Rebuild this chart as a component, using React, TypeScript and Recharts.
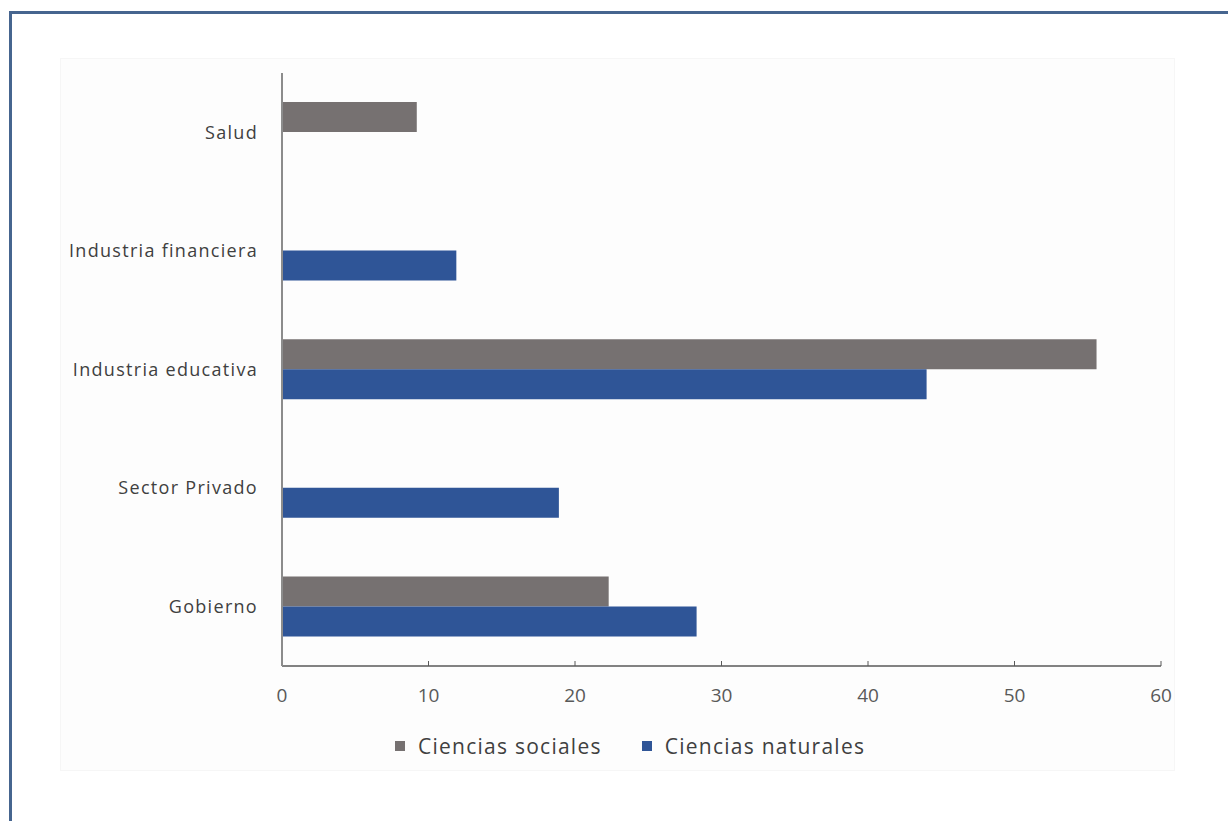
import {BarChart, Bar, XAxis, YAxis, Legend} from 'recharts';

const categories = ['Salud', 'Industria financiera', 'Industria educativa', 'Sector Privado', 'Gobierno'];
const sociales = [9.2, null, 55.6, null, 22.3];
const naturales = [null, 11.9, 44.0, 18.9, 28.3];
const xTicks = [0, 10, 20, 30, 40, 50, 60];

const data = categories.map((name, i) => ({name, sociales: sociales[i], naturales: naturales[i]}));

const GRAY = '#767171';
const BLUE = '#2F5597';
const FONT = '"Open Sans", sans-serif';

const renderLegend = () => {
    const items = [
        {label: 'Ciencias sociales', color: GRAY},
        {label: 'Ciencias naturales', color: BLUE},
    ];
    return (
        <div style={{display: 'flex', alignItems: 'center', height: 30, paddingLeft: 395}}>
            {items.map((it) => (
                <div key={it.label} style={{display: 'flex', alignItems: 'center', marginRight: 40}}>
                    <span style={{display: 'inline-block', width: 10, height: 10, background: it.color, marginRight: 13}}/>
                    <span style={{fontFamily: FONT, fontSize: 21, letterSpacing: 1.25, color: '#404040', whiteSpace: 'nowrap'}}>{it.label}</span>
                </div>
            ))}
        </div>
    );
};

export default function App() {
    return (
        <div style={{position: 'fixed', left: 0, top: 0, width: 1228, height: 821, background: '#fff'}}>
            <div style={{
                position: 'absolute', left: 9, top: 11, width: 1219, height: 810,
                borderLeft: '3px solid #46658f', borderTop: '3px solid #46658f', boxSizing: 'border-box'
            }}/>
            <div style={{
                position: 'absolute', left: 60, top: 58, width: 1115, height: 713,
                background: '#fdfdfd', border: '1px solid #f6f6f6', boxSizing: 'border-box'
            }}/>
            <div style={{position: 'absolute', left: 0, top: 0}}>
                <BarChart layout="vertical" width={1228} height={821} data={data}
                          margin={{top: 73, right: 67, left: 0, bottom: 60}}
                          barGap={0} barCategoryGap="24.7%">
                    <XAxis type="number" domain={[0, 60]} ticks={xTicks} height={65}
                           axisLine={{stroke: '#595959', strokeWidth: 1.5}}
                           tickLine={{stroke: '#595959'}} tickSize={-5} tickMargin={28}
                           tick={{fill: '#595959', fontSize: 19, fontFamily: FONT}}/>
                    <YAxis type="category" dataKey="name" width={282}
                           axisLine={{stroke: '#8c8c8c', strokeWidth: 2}} tickLine={false} tickMargin={18}
                           tick={{fill: '#404040', fontSize: 18, fontFamily: FONT, letterSpacing: 1.3}}/>
                    <Legend verticalAlign="bottom" content={renderLegend} wrapperStyle={{height: 30}}/>
                    <Bar dataKey="sociales" name="Ciencias sociales" fill={GRAY} barSize={30} isAnimationActive={false}/>
                    <Bar dataKey="naturales" name="Ciencias naturales" fill={BLUE} barSize={30} isAnimationActive={false}/>
                </BarChart>
            </div>
        </div>
    );
}
